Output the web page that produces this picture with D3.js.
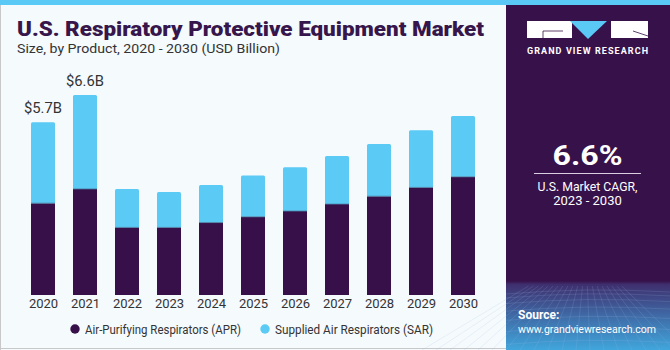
<!DOCTYPE html>
<html><head><meta charset="utf-8">
<script src="https://cdn.jsdelivr.net/npm/d3@7"></script>
<style>html,body{margin:0;padding:0;background:#fff;}svg{display:block;}</style>
</head><body>
<script>
const years = ["2020","2021","2022","2023","2024","2025","2026","2027","2028","2029","2030"];
const apr = [3.03,3.50,2.23,2.23,2.39,2.58,2.77,3.00,3.26,3.55,3.90];
const sar = [2.67,3.10,1.27,1.17,1.24,1.36,1.45,1.59,1.72,1.89,2.01];
const totalLabels = {"2020":"$5.7B","2021":"$6.6B"};
const seriesNames = ["Air-Purifying Respirators (APR)","Supplied Air Respirators (SAR)"];
const colors = ["#37104a","#5bcaf5"];

const W=670,H=350;
const svg=d3.select("body").append("svg").attr("width",W).attr("height",H);
const defs=svg.append("defs");
const font="Roboto, 'Liberation Sans', Arial, sans-serif";

// background
svg.append("rect").attr("width",W).attr("height",H).attr("fill","#f5fafd");
svg.append("rect").attr("x",0).attr("y",0).attr("width",W).attr("height",5).attr("fill","#5bc9f5");
svg.append("line").attr("x1",0.5).attr("x2",0.5).attr("y1",5).attr("y2",H).attr("stroke","#c8c8c8");
svg.append("line").attr("x1",0).attr("x2",W).attr("y1",348.5).attr("y2",348.5).attr("stroke","#c8c8c8");

// title
svg.append("text").attr("x",17).attr("y",36).attr("font-family",font).attr("font-weight",900)
  .attr("font-size",20).attr("fill","#37164b").attr("textLength",467).attr("lengthAdjust","spacingAndGlyphs")
  .text("U.S. Respiratory Protective Equipment Market");
svg.append("text").attr("x",17).attr("y",53).attr("font-family",font).attr("font-size",13)
  .attr("fill","#333").attr("textLength",263).attr("lengthAdjust","spacingAndGlyphs")
  .text("Size, by Product, 2020 - 2030 (USD Billion)");

// scales
const x0=d3.scaleLinear().domain([0,years.length-1]).range([31,451]);
const barW=24;
const y=d3.scaleLinear().domain([0,1]).range([295,295-30.3]);

const data=years.map((yr,i)=>({yr,i,apr:apr[i],sar:sar[i]}));
const stack=d3.stack().keys(["apr","sar"])(data);

function roundedTop(x,y0,y1,w,r){
  return `M${x},${y0}V${y1+r}Q${x},${y1} ${x+r},${y1}H${x+w-r}Q${x+w},${y1} ${x+w},${y1+r}V${y0}Z`;
}
const g=svg.append("g");
stack.forEach((s,si)=>{
  g.selectAll(null).data(s).enter().append("path")
   .attr("fill",colors[si])
   .attr("d",d=>{
     const bx=x0(d.data.i);
     if(si===1) return roundedTop(bx,y(d[0]),y(d[1]),barW,1.5);
     return `M${bx},${y(d[0])}V${y(d[1])}H${bx+barW}V${y(d[0])}Z`;
   });
});
g.selectAll(null).data(data).enter().append("line")
  .attr("x1",d=>x0(d.i)).attr("x2",d=>x0(d.i)+barW)
  .attr("y1",d=>y(d.apr)).attr("y2",d=>y(d.apr))
  .attr("stroke","#4b7aa0").attr("stroke-width",0.8);

// total labels
svg.selectAll(null).data(data.filter(d=>totalLabels[d.yr])).enter().append("text")
  .attr("x",d=>x0(d.i)+barW/2).attr("y",d=>y(d.apr+d.sar)-9.5)
  .attr("text-anchor","middle").attr("font-family",font).attr("font-size",14).attr("fill","#333")
  .attr("textLength",38).attr("lengthAdjust","spacingAndGlyphs")
  .text(d=>totalLabels[d.yr]);

// x axis labels
const xa=d3.scalePoint().domain(years).range([x0(0)+barW/2,x0(10)+barW/2]);
const ax=svg.append("g").attr("transform","translate(0,295)").call(d3.axisBottom(xa).tickSize(0).tickPadding(3.5));
ax.select(".domain").remove();
ax.selectAll("text").attr("font-family",font).attr("font-size",13).attr("fill","#333");

// legend
const leg=svg.append("g");
const legX=[75,265];
const legW=[156,158];
seriesNames.forEach((n,i)=>{
  leg.append("circle").attr("cx",legX[i]).attr("cy",329).attr("r",4.7).attr("fill",colors[i]);
  leg.append("text").attr("x",legX[i]+10).attr("y",333.5).attr("font-family",font).attr("font-size",12.5)
    .attr("fill","#333").attr("textLength",legW[i]).attr("lengthAdjust","spacingAndGlyphs").text(n);
});

// right panel
const px=506;
const grad=defs.append("linearGradient").attr("id","pg").attr("x1",0).attr("y1",0).attr("x2",0).attr("y2",1);
grad.append("stop").attr("offset","0").attr("stop-color","#37114a");
grad.append("stop").attr("offset","0.80").attr("stop-color","#37114a");
grad.append("stop").attr("offset","0.81").attr("stop-color","#3f2f6e");
grad.append("stop").attr("offset","0.90").attr("stop-color","#3f6aa6");
grad.append("stop").attr("offset","1").attr("stop-color","#40a6dc");
svg.append("rect").attr("x",px).attr("y",5).attr("width",W-px).attr("height",H-5).attr("fill","url(#pg)");
const grid=svg.append("g").attr("stroke","#9fb8e0").attr("stroke-opacity",0.25).attr("stroke-width",0.7).attr("fill","none");
for(let k=0;k<9;k++){
  const yy=290+k*k*0.9+k*3;
  grid.append("path").attr("d",`M${px},${yy+4} Q${px+80},${yy-3} ${W},${yy+2}`);
}
for(let k=-6;k<14;k++){
  const xt=px+k*14;
  grid.append("path").attr("d",`M${px+80+(xt-px-80)*0.35},286 L${xt},${H}`);
}

// logo
svg.append("rect").attr("x",527).attr("y",21).attr("width",45).attr("height",17).attr("fill","#fff");
svg.append("path").attr("d","M570,21H607L588,39Z").attr("fill","#5bc9f5");
svg.append("rect").attr("x",611).attr("y",21).attr("width",37).attr("height",17).attr("fill","#fff");
svg.append("path").attr("d","M563,31H543V38").attr("stroke","#37114a").attr("stroke-width",0.8).attr("fill","none");
svg.append("path").attr("d","M633,31L648,36").attr("stroke","#37114a").attr("stroke-width",0.8).attr("fill","none");
svg.append("text").attr("x",587.5).attr("y",54).attr("text-anchor","middle").attr("font-family",font)
  .attr("font-weight",700).attr("font-size",9).attr("fill","#fff").attr("textLength",121).attr("lengthAdjust","spacing")
  .text("GRAND VIEW RESEARCH");

svg.append("text").attr("x",587.5).attr("y",165).attr("text-anchor","middle").attr("font-family",font)
  .attr("font-weight",700).attr("font-size",28).attr("fill","#fff").attr("textLength",70).attr("lengthAdjust","spacingAndGlyphs").text("6.6%");
svg.append("line").attr("x1",534).attr("x2",641).attr("y1",173.5).attr("y2",173.5).attr("stroke","#d8cfe0").attr("stroke-width",1);
svg.append("text").attr("x",587.5).attr("y",191).attr("text-anchor","middle").attr("font-family",font)
  .attr("font-size",13).attr("fill","#fff").attr("textLength",100).attr("lengthAdjust","spacingAndGlyphs").text("U.S. Market CAGR,");
svg.append("text").attr("x",587.5).attr("y",205).attr("text-anchor","middle").attr("font-family",font)
  .attr("font-size",13).attr("fill","#fff").text("2023 - 2030");

svg.append("text").attr("x",518).attr("y",319).attr("font-family",font).attr("font-weight",700)
  .attr("font-size",12).attr("fill","#fff").text("Source:");
svg.append("text").attr("x",518).attr("y",333).attr("font-family",font)
  .attr("font-size",11).attr("fill","#fff").attr("textLength",138).attr("lengthAdjust","spacingAndGlyphs").text("www.grandviewresearch.com");
</script>
</body></html>
